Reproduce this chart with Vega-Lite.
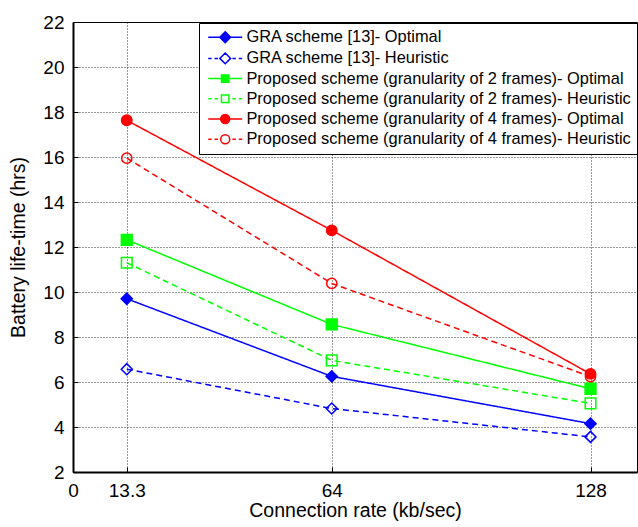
{
  "$schema": "https://vega.github.io/schema/vega-lite/v6.json",
  "width": 564,
  "height": 450,
  "autosize": {"type": "none"},
  "padding": {"left": 73, "top": 22, "right": 1, "bottom": 55},
  "background": "white",
  "config": {
    "font": "Liberation Sans",
    "view": {"stroke": "black", "strokeWidth": 1},
    "axis": {
      "domainColor": "black",
      "domainWidth": 2,
      "tickColor": "black",
      "tickWidth": 1,
      "tickSize": -5,
      "labelColor": "black",
      "labelFont": "Liberation Sans",
      "labelFontSize": 19,
      "labelFlush": false,
      "labelOverlap": false,
      "titleColor": "black",
      "titleFont": "Liberation Sans",
      "titleFontSize": 19.5,
      "titleFontWeight": "normal",
      "gridColor": "black",
      "gridDash": [1, 2],
      "gridOpacity": 0.8,
      "gridWidth": 1
    },
    "legend": {
      "labelFont": "Liberation Sans",
      "labelFontSize": 16.4,
      "labelColor": "black",
      "labelLimit": 500
    }
  },
  "data": {
    "values": [
      {"series": "GRA scheme [13]- Optimal", "rate": 13.3, "life": 9.7},
      {"series": "GRA scheme [13]- Optimal", "rate": 64, "life": 6.25},
      {"series": "GRA scheme [13]- Optimal", "rate": 128, "life": 4.15},
      {"series": "GRA scheme [13]- Heuristic", "rate": 13.3, "life": 6.57},
      {"series": "GRA scheme [13]- Heuristic", "rate": 64, "life": 4.82},
      {"series": "GRA scheme [13]- Heuristic", "rate": 128, "life": 3.56},
      {"series": "Proposed scheme (granularity of 2 frames)- Optimal", "rate": 13.3, "life": 12.32},
      {"series": "Proposed scheme (granularity of 2 frames)- Optimal", "rate": 64, "life": 8.56},
      {"series": "Proposed scheme (granularity of 2 frames)- Optimal", "rate": 128, "life": 5.7},
      {"series": "Proposed scheme (granularity of 2 frames)- Heuristic", "rate": 13.3, "life": 11.3},
      {"series": "Proposed scheme (granularity of 2 frames)- Heuristic", "rate": 64, "life": 6.96},
      {"series": "Proposed scheme (granularity of 2 frames)- Heuristic", "rate": 128, "life": 5.05},
      {"series": "Proposed scheme (granularity of 4 frames)- Optimal", "rate": 13.3, "life": 17.63},
      {"series": "Proposed scheme (granularity of 4 frames)- Optimal", "rate": 64, "life": 12.74},
      {"series": "Proposed scheme (granularity of 4 frames)- Optimal", "rate": 128, "life": 6.36},
      {"series": "Proposed scheme (granularity of 4 frames)- Heuristic", "rate": 13.3, "life": 15.95},
      {"series": "Proposed scheme (granularity of 4 frames)- Heuristic", "rate": 64, "life": 10.38},
      {"series": "Proposed scheme (granularity of 4 frames)- Heuristic", "rate": 128, "life": 6.24}
    ]
  },
  "encoding": {
    "x": {
      "field": "rate",
      "type": "quantitative",
      "title": "Connection rate (kb/sec)",
      "scale": {"domain": [0, 139.5], "nice": false, "zero": false},
      "axis": {"values": [0, 13.3, 64, 128], "format": ".1~f", "labelPadding": 14, "titlePadding": 1}
    },
    "y": {
      "field": "life",
      "type": "quantitative",
      "title": "Battery life-time (hrs)",
      "scale": {"domain": [2, 22], "nice": false, "zero": false},
      "axis": {"values": [2, 4, 6, 8, 10, 12, 14, 16, 18, 20, 22], "labelPadding": 14, "titlePadding": 14}
    }
  },
  "layer": [
    {
      "mark": {"type": "line", "strokeWidth": 1.5},
      "encoding": {
        "color": {
          "field": "series",
          "type": "nominal",
          "sort": null,
          "legend": null,
          "scale": {
            "domain": [
              "GRA scheme [13]- Optimal",
              "GRA scheme [13]- Heuristic",
              "Proposed scheme (granularity of 2 frames)- Optimal",
              "Proposed scheme (granularity of 2 frames)- Heuristic",
              "Proposed scheme (granularity of 4 frames)- Optimal",
              "Proposed scheme (granularity of 4 frames)- Heuristic"
            ],
            "range": ["#0000ff", "#0000ff", "#00ff00", "#00ff00", "#ff0000", "#ff0000"]
          }
        },
        "strokeDash": {
          "field": "series",
          "type": "nominal",
          "sort": null,
          "legend": null,
          "scale": {
            "domain": [
              "GRA scheme [13]- Optimal",
              "GRA scheme [13]- Heuristic",
              "Proposed scheme (granularity of 2 frames)- Optimal",
              "Proposed scheme (granularity of 2 frames)- Heuristic",
              "Proposed scheme (granularity of 4 frames)- Optimal",
              "Proposed scheme (granularity of 4 frames)- Heuristic"
            ],
            "range": [[1, 0], [6, 4], [1, 0], [6, 4], [1, 0], [6, 4]]
          }
        }
      }
    },
    {
      "mark": {"type": "point", "strokeWidth": 1.5, "opacity": 1},
      "encoding": {
        "shape": {
          "field": "series",
          "type": "nominal",
          "legend": null,
          "scale": {
            "domain": [
              "GRA scheme [13]- Optimal",
              "GRA scheme [13]- Heuristic",
              "Proposed scheme (granularity of 2 frames)- Optimal",
              "Proposed scheme (granularity of 2 frames)- Heuristic",
              "Proposed scheme (granularity of 4 frames)- Optimal",
              "Proposed scheme (granularity of 4 frames)- Heuristic"
            ],
            "range": ["diamond", "diamond", "square", "square", "circle", "circle"]
          }
        },
        "size": {
          "field": "series",
          "type": "nominal",
          "legend": null,
          "scale": {
            "domain": [
              "GRA scheme [13]- Optimal",
              "GRA scheme [13]- Heuristic",
              "Proposed scheme (granularity of 2 frames)- Optimal",
              "Proposed scheme (granularity of 2 frames)- Heuristic",
              "Proposed scheme (granularity of 4 frames)- Optimal",
              "Proposed scheme (granularity of 4 frames)- Heuristic"
            ],
            "range": [125, 105, 85, 75, 105, 95]
          }
        },
        "stroke": {
          "field": "series",
          "type": "nominal",
          "legend": null,
          "scale": {
            "domain": [
              "GRA scheme [13]- Optimal",
              "GRA scheme [13]- Heuristic",
              "Proposed scheme (granularity of 2 frames)- Optimal",
              "Proposed scheme (granularity of 2 frames)- Heuristic",
              "Proposed scheme (granularity of 4 frames)- Optimal",
              "Proposed scheme (granularity of 4 frames)- Heuristic"
            ],
            "range": ["#0000ff", "#0000ff", "#00ff00", "#00ff00", "#ff0000", "#ff0000"]
          }
        },
        "fill": {
          "field": "series",
          "type": "nominal",
          "legend": null,
          "scale": {
            "domain": [
              "GRA scheme [13]- Optimal",
              "GRA scheme [13]- Heuristic",
              "Proposed scheme (granularity of 2 frames)- Optimal",
              "Proposed scheme (granularity of 2 frames)- Heuristic",
              "Proposed scheme (granularity of 4 frames)- Optimal",
              "Proposed scheme (granularity of 4 frames)- Heuristic"
            ],
            "range": ["#0000ff", "transparent", "#00ff00", "transparent", "#ff0000", "transparent"]
          }
        }
      }
    },
    {
      "mark": {"type": "point", "strokeWidth": 1.5, "opacity": 0, "size": 144},
      "encoding": {
        "shape": {
          "field": "series",
          "type": "nominal",
          "legend": {
            "title": null,
            "orient": "none",
            "legendX": 126,
            "legendY": 1,
            "padding": 6,
            "rowPadding": 3.2,
            "symbolSize": 144,
            "symbolStrokeWidth": 1.5,
            "symbolOpacity": 1,
            "symbolOffset": 12,
            "labelOffset": 13,
            "strokeColor": "black",
            "fillColor": "white",
            "cornerRadius": 0
          },
          "scale": {
            "domain": [
              "GRA scheme [13]- Optimal",
              "GRA scheme [13]- Heuristic",
              "Proposed scheme (granularity of 2 frames)- Optimal",
              "Proposed scheme (granularity of 2 frames)- Heuristic",
              "Proposed scheme (granularity of 4 frames)- Optimal",
              "Proposed scheme (granularity of 4 frames)- Heuristic"
            ],
            "range": [
              "M-2.83,0H-0.85M0.85,0H2.83M0,-0.9L0.9,0L0,0.9L-0.9,0Z",
              "M-2.83,0H-2.27M-1.77,0H-1.2M1.2,0H1.77M2.27,0H2.83M0,-0.9L0.9,0L0,0.9L-0.9,0Z",
              "M-2.83,0H-0.62M0.62,0H2.83M-0.62,-0.62H0.62V0.62H-0.62Z",
              "M-2.83,0H-2.27M-1.77,0H-1.2M1.2,0H1.77M2.27,0H2.83M-0.62,-0.62H0.62V0.62H-0.62Z",
              "M-2.83,0H-0.75M0.75,0H2.83M0.75,0A0.75,0.75,0,1,1,-0.75,0A0.75,0.75,0,1,1,0.75,0Z",
              "M-2.83,0H-2.27M-1.77,0H-1.2M1.2,0H1.77M2.27,0H2.83M0.75,0A0.75,0.75,0,1,1,-0.75,0A0.75,0.75,0,1,1,0.75,0Z"
            ]
          }
        },
        "stroke": {
          "field": "series",
          "type": "nominal",
          "scale": {
            "domain": [
              "GRA scheme [13]- Optimal",
              "GRA scheme [13]- Heuristic",
              "Proposed scheme (granularity of 2 frames)- Optimal",
              "Proposed scheme (granularity of 2 frames)- Heuristic",
              "Proposed scheme (granularity of 4 frames)- Optimal",
              "Proposed scheme (granularity of 4 frames)- Heuristic"
            ],
            "range": ["#0000ff", "#0000ff", "#00ff00", "#00ff00", "#ff0000", "#ff0000"]
          }
        },
        "fill": {
          "field": "series",
          "type": "nominal",
          "scale": {
            "domain": [
              "GRA scheme [13]- Optimal",
              "GRA scheme [13]- Heuristic",
              "Proposed scheme (granularity of 2 frames)- Optimal",
              "Proposed scheme (granularity of 2 frames)- Heuristic",
              "Proposed scheme (granularity of 4 frames)- Optimal",
              "Proposed scheme (granularity of 4 frames)- Heuristic"
            ],
            "range": ["#0000ff", "transparent", "#00ff00", "transparent", "#ff0000", "transparent"]
          }
        }
      }
    }
  ],
  "resolve": {
    "scale": {"shape": "independent", "stroke": "independent", "fill": "independent", "size": "independent"}
  }
}
